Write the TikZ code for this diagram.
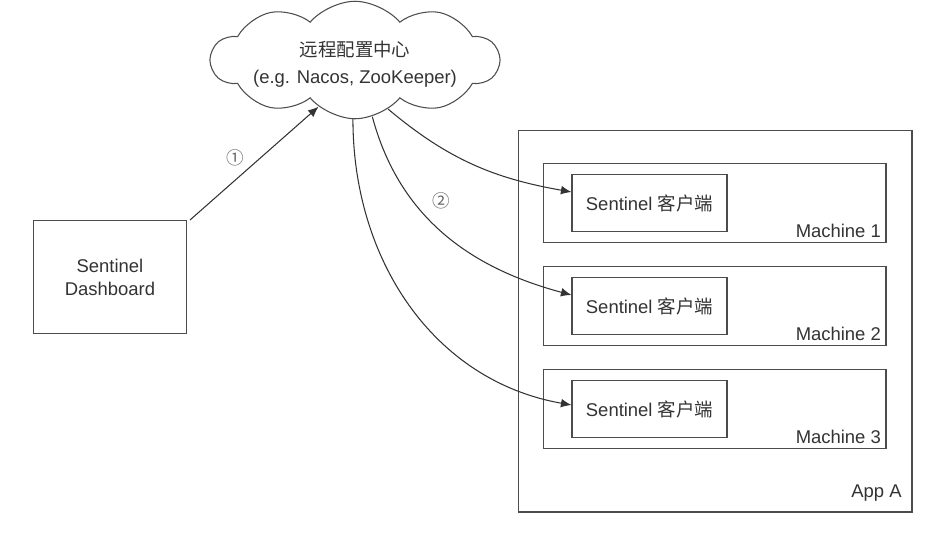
\documentclass[tikz,border=0pt]{standalone}
\usepackage{fontspec}
\setmainfont{Liberation Sans}
\newfontfamily\cjk{Noto Sans CJK SC}
\usetikzlibrary{shapes.symbols, arrows.meta, positioning, calc}

\begin{document}
\begin{tikzpicture}[
  x=0.02cm, y=-0.02cm,
  font=\fontsize{10.5}{13}\selectfont, text=black!80,
  box/.style={rectangle, draw=black!70, line width=0.6pt, align=center},
  lbl/.style={anchor=south east, inner sep=3pt},
  arrow/.style={-{Latex[length=6pt,width=5pt]}, draw=black!80, line width=0.6pt}
]
  \useasboundingbox (0,0) rectangle (946,539);

  % config centre
  \node (cloud) [cloud, draw=black!70, line width=0.6pt, cloud puffs=10,
                 cloud puff arc=100, cloud ignores aspect, minimum width=5.75cm,
                 minimum height=2.35cm, inner sep=0pt] at (355,60) {};
  \node (cloudtxt) [align=center, font=\fontsize{10.5}{15.5}\selectfont]
        at (355,64) {{\cjk 远程配置中心}\\(e.g. Nacos, ZooKeeper)};

  \node (dash) [box, minimum width=3.06cm, minimum height=2.26cm]
        at (110,277) {Sentinel\\Dashboard};

  \node (app) [box, minimum width=7.88cm, minimum height=7.64cm] at (715,321) {};
  \node (applbl) [lbl, inner sep=6pt] at (app.south east) {App A};

  \foreach \i/\y in {1/203, 2/306, 3/409} {
    \node (m\i) [box, minimum width=6.86cm, minimum height=1.58cm] at (714.5,\y) {};
    \node (c\i) [box, minimum width=3.1cm, minimum height=1.14cm]
          at (649.5,\y) {Sentinel {\cjk 客户端}};
    \node (m\i lbl) [lbl] at (m\i.south east) {Machine \i};
  }

  \draw[arrow] (dash.north east) ++(3,0) coordinate (dtop) (dtop) -- (cloud.-128);
  \node (n1) [font=\cjk, text=black!60] at (235,158) {①};

  \draw[arrow] (cloud.-56) to[out=-40, in=170] ($(c1.west)+(0,-11)$);
  \draw[arrow] (cloud.-73) to[out=-75, in=165] ($(c2.west)+(0,-11)$);
  \draw[arrow] (cloud.-92) to[out=-90, in=170] ($(c3.west)+(0,-4)$);
  \node (n2) [font=\cjk, text=black!60] at (441,201) {②};
\end{tikzpicture}
\end{document}
